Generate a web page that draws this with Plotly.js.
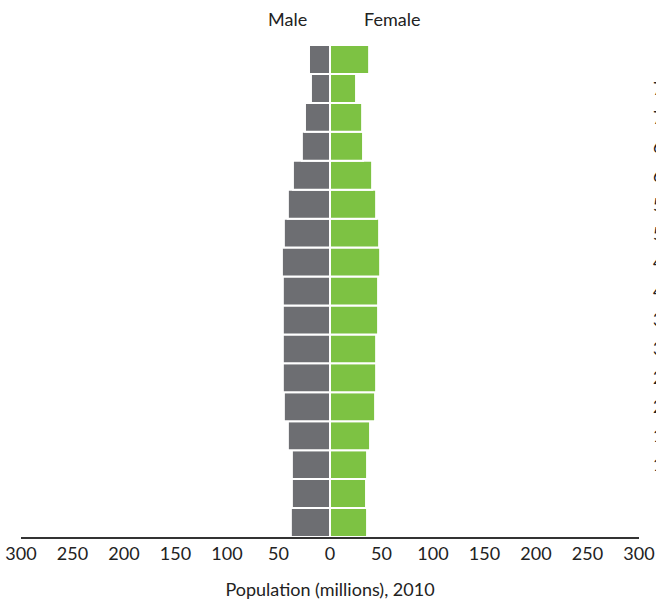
<!DOCTYPE html>
<html>
<head>
<meta charset="utf-8">
<script src="https://cdn.plot.ly/plotly-3.0.1.min.js"></script>
<style>
html, body { margin: 0; padding: 0; overflow: hidden; background: #fff; }
#chart { width: 656px; height: 601px; }
</style>
</head>
<body>
<div id="chart"></div>
<script>
// Age groups, bottom to top
var ageGroups = ["0-4", "5-9", "10-14", "15-19", "20-24", "25-29", "30-34", "35-39",
                 "40-44", "45-49", "50-54", "55-59", "60-64", "65-69", "70-74", "75-79", "80+"];
// Population in millions, 2010
var malePop =   [38.0, 37.0, 37.0, 40.9, 44.8, 45.8, 45.8, 45.8, 45.8, 46.7, 44.8, 40.9, 36.0, 27.3, 24.3, 18.5, 20.4];
var femalePop = [36.0, 35.0, 36.0, 38.9, 43.8, 44.8, 44.8, 46.7, 46.7, 48.7, 47.7, 44.8, 40.9, 32.1, 31.2, 25.3, 38.0];
var tickVals =  [-300, -250, -200, -150, -100, -50, 0, 50, 100, 150, 200, 250, 300];
var tickText =  ["300", "250", "200", "150", "100", "50", "0", "50", "100", "150", "200", "250", "300"];

var FONT = "Lato, 'Open Sans', sans-serif";

var male = {
  type: "bar",
  orientation: "h",
  name: "Male",
  y: ageGroups,
  x: malePop.map(function (v) { return -v; }),
  marker: { color: "#6d6e72", line: { color: "#ffffff", width: 2 } },
  hoverinfo: "skip"
};
var female = {
  type: "bar",
  orientation: "h",
  name: "Female",
  y: ageGroups,
  x: femalePop,
  marker: { color: "#7dc243", line: { color: "#ffffff", width: 2 } },
  hoverinfo: "skip"
};

var annotations = [
  { text: "Male", xref: "paper", yref: "paper", x: 0.431, y: 1.052, xanchor: "center", yanchor: "middle",
    showarrow: false, font: { family: FONT, size: 18, color: "#222" } },
  { text: "Female", xref: "paper", yref: "paper", x: 0.600, y: 1.052, xanchor: "center", yanchor: "middle",
    showarrow: false, font: { family: FONT, size: 18, color: "#222" } }
];
ageGroups.forEach(function (g) {
  annotations.push({
    text: g, xref: "paper", yref: "y", x: 1.1005, y: g, xanchor: "right", yanchor: "middle",
    showarrow: false, font: { family: FONT, size: 17, color: "#222" }
  });
});

var layout = {
  width: 656,
  height: 601,
  margin: { l: 21, r: 17, t: 44.5, b: 63.5, pad: 0 },
  paper_bgcolor: "#ffffff",
  plot_bgcolor: "#ffffff",
  barmode: "relative",
  bargap: 0,
  showlegend: false,
  font: { family: FONT, size: 18, color: "#222" },
  xaxis: {
    range: [-300, 300],
    tickmode: "array",
    tickvals: tickVals,
    ticktext: tickText,
    showgrid: false,
    zeroline: false,
    showline: true,
    linecolor: "#333",
    linewidth: 1.5,
    ticks: "",
    tickfont: { family: FONT, size: 18, color: "#222" },
    title: { text: "Population (millions), 2010", font: { family: FONT, size: 18, color: "#222" }, standoff: 20 },
    fixedrange: true
  },
  yaxis: {
    type: "category",
    categoryorder: "array",
    categoryarray: ageGroups,
    range: [-0.5, 16.5],
    showticklabels: false,
    showgrid: false,
    zeroline: false,
    showline: false,
    ticks: "",
    fixedrange: true
  },
  annotations: annotations
};

Plotly.newPlot("chart", [male, female], layout, { displayModeBar: false, staticPlot: true });
</script>
</body>
</html>
